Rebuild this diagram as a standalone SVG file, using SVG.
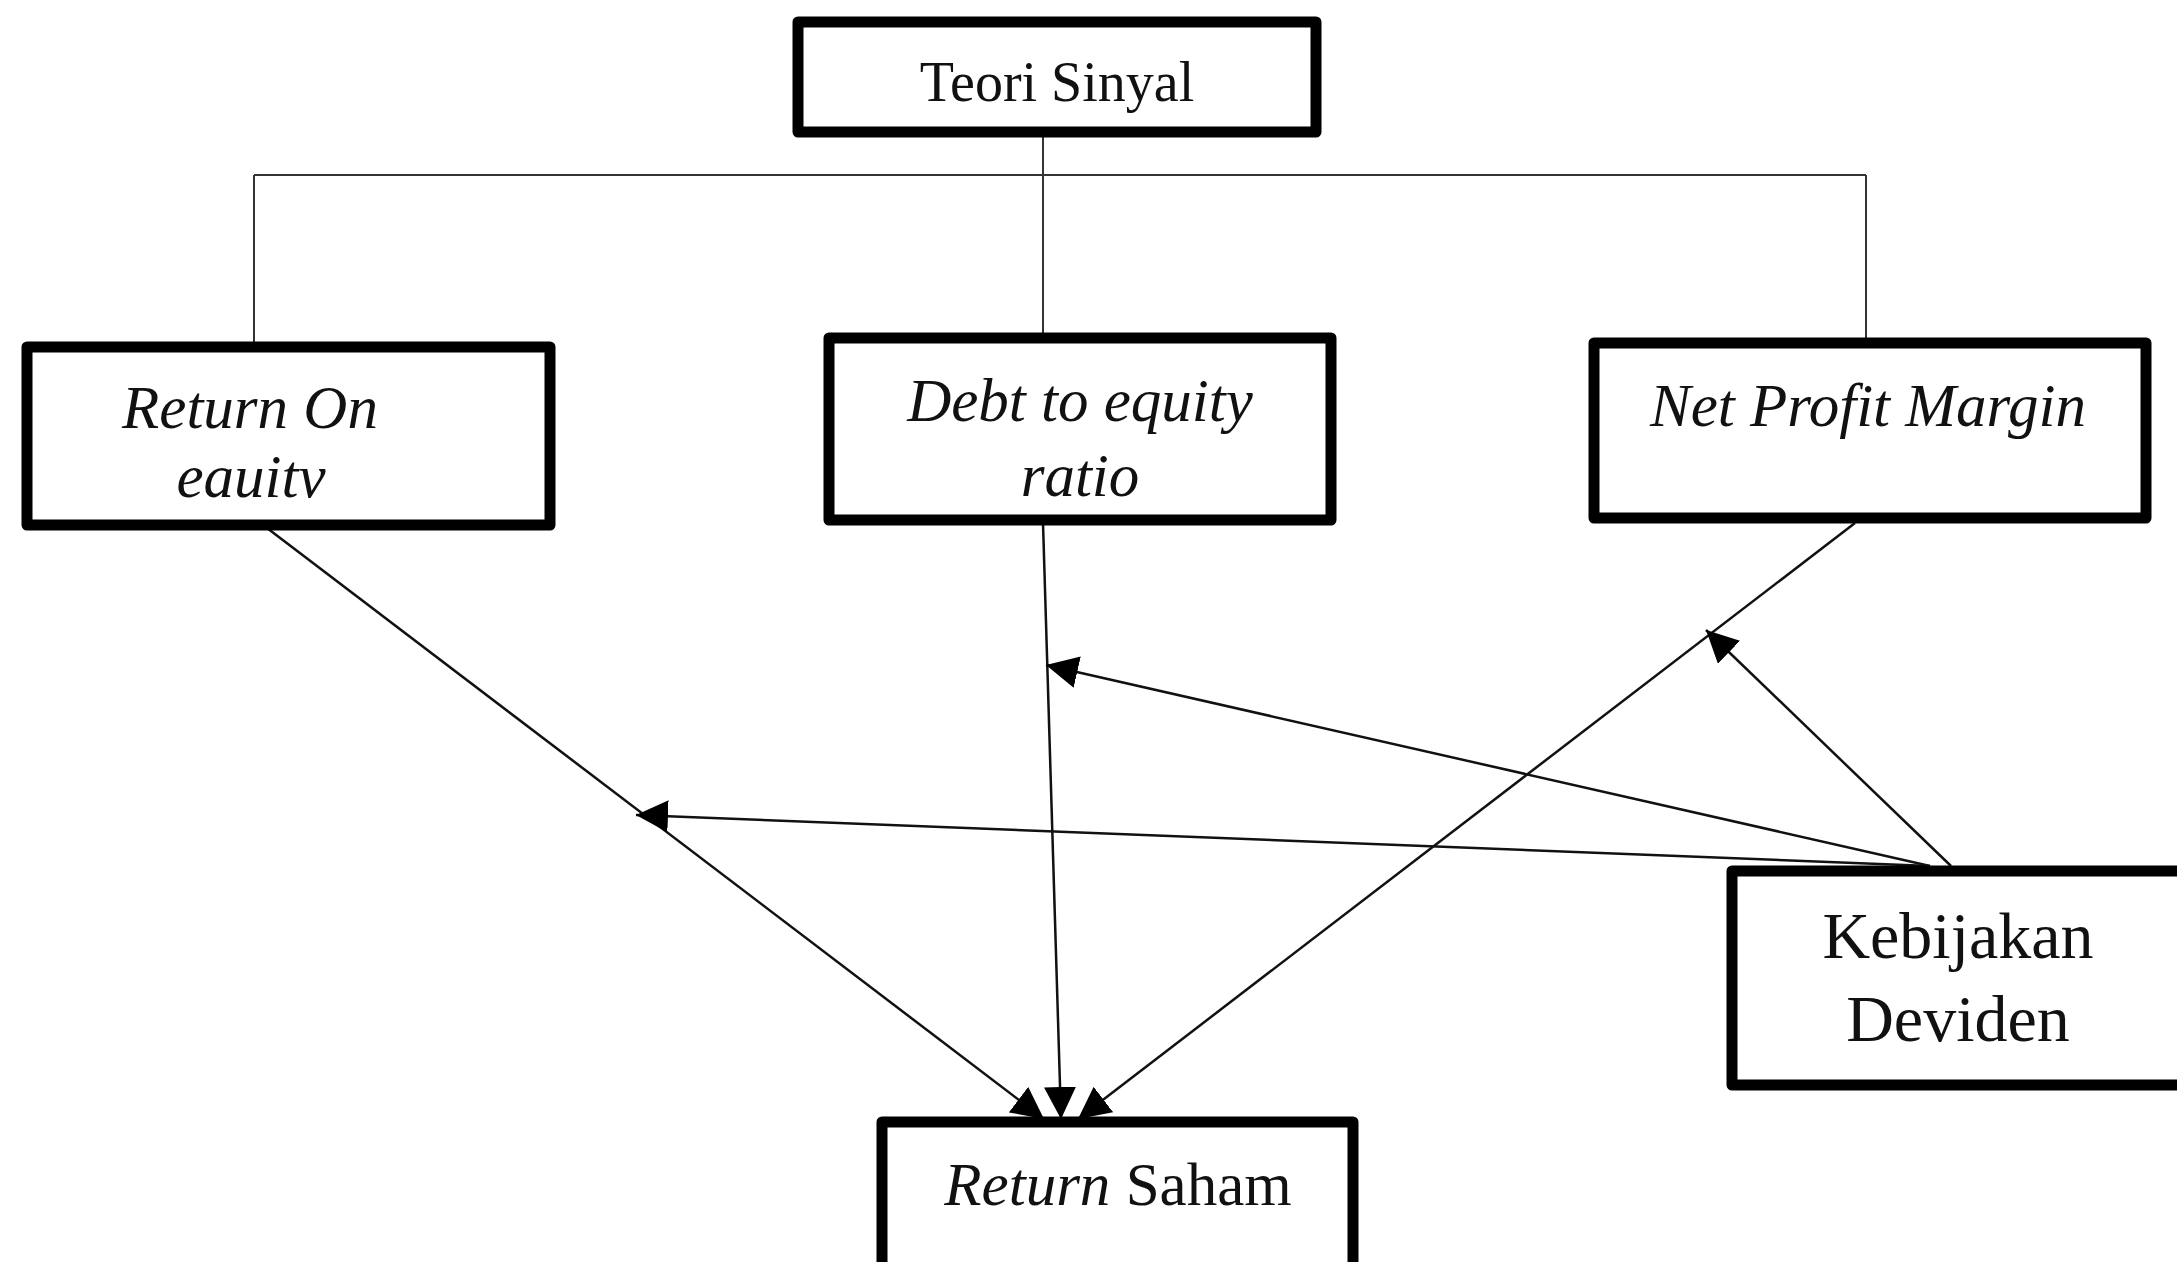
<svg xmlns="http://www.w3.org/2000/svg" width="2177" height="1262" viewBox="0 0 2177 1262">
<defs>
<style>
.box{fill:#fff;stroke:#000;stroke-width:11;stroke-linejoin:round}
.t{font-family:"Liberation Serif","Times New Roman",serif;fill:#111;text-anchor:middle}
.i{font-style:italic}
.tree{stroke:#333;stroke-width:2;fill:none}
.con{stroke:#111;stroke-width:2.5;fill:none;marker-end:url(#ah)}
</style>
<marker id="ah" markerUnits="userSpaceOnUse" markerWidth="32" markerHeight="32" viewBox="0 0 30 30" refX="30" refY="15" orient="auto">
<path d="M0,0 L30,15 L0,30 Z" fill="#000"/>
</marker>
</defs>
<rect width="2177" height="1262" fill="#fff"/>
<g id="connectors">
<path class="tree" d="M1043,135 V335 M254,175 H1866 M254,175 V344 M1866,175 V340"/>
<line class="con" x1="267" y1="528" x2="1044" y2="1119"/>
<line class="con" x1="1043" y1="523" x2="1061" y2="1119"/>
<line class="con" x1="1855" y1="523" x2="1078" y2="1119"/>
<line class="con" x1="1930" y1="866" x2="636" y2="815"/>
<line class="con" x1="1930" y1="866" x2="1046" y2="665"/>
<line class="con" x1="1951" y1="866" x2="1706" y2="630"/>
</g>
<g id="teori">
<rect class="box" x="798" y="22" width="518" height="110"/>
<text class="t" x="1057" y="101" font-size="56">Teori Sinyal</text>
</g>
<g id="roe">
<rect class="box" x="27" y="347" width="523" height="178"/>
<text class="t i" x="250" y="428" font-size="61">Return On</text>
<text class="t i" x="251" y="497" font-size="61">eauitv</text>
</g>
<g id="der">
<rect class="box" x="829" y="338" width="502" height="182"/>
<text class="t i" x="1080" y="421" font-size="61">Debt to equity</text>
<text class="t i" x="1080" y="496" font-size="61">ratio</text>
</g>
<g id="npm">
<rect class="box" x="1594" y="343" width="552" height="175"/>
<text class="t i" x="1868" y="426" font-size="61">Net Profit Margin</text>
</g>
<g id="kebijakan">
<rect class="box" x="1732" y="871" width="474" height="214"/>
<text class="t" x="1958" y="958" font-size="66">Kebijakan</text>
<text class="t" x="1958" y="1041" font-size="66">Deviden</text>
</g>
<g id="return-saham">
<rect class="box" x="882" y="1122" width="471" height="172"/>
<text class="t" x="1118" y="1205" font-size="61"><tspan font-style="italic">Return</tspan> Saham</text>
</g>
</svg>
